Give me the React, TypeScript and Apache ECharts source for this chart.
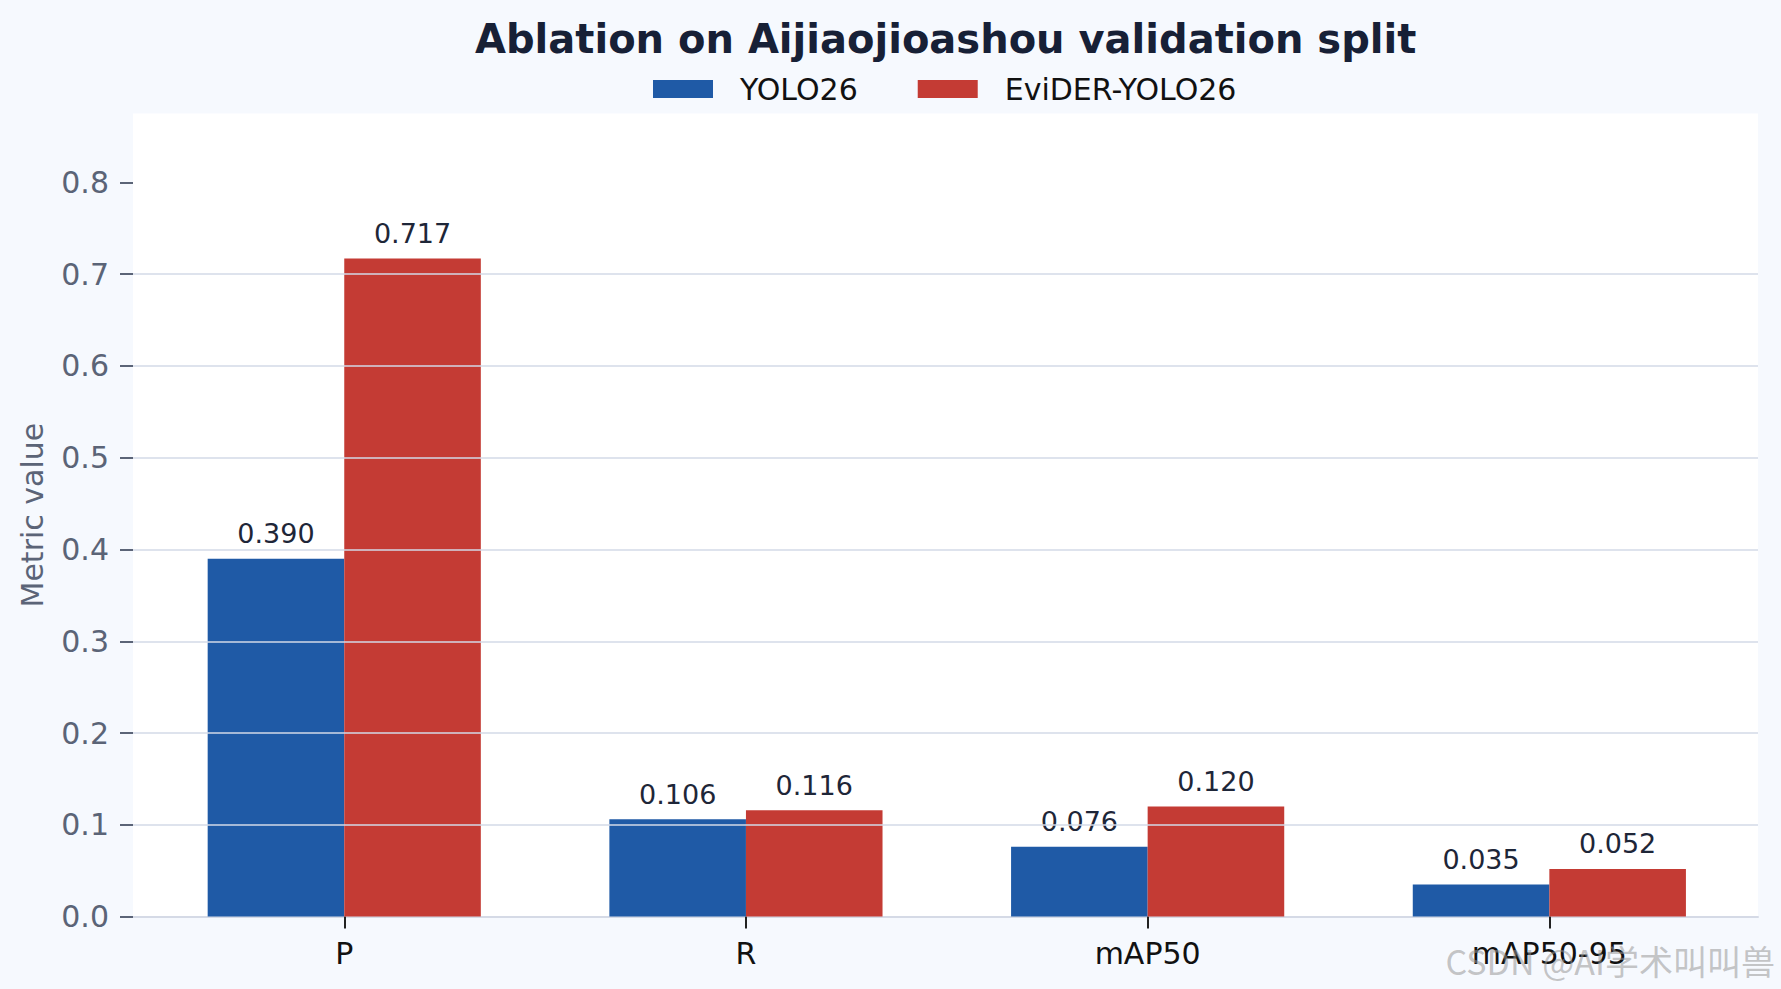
import React, { useEffect, useRef } from "react";
import * as echarts from "echarts";

const categories = ["P", "R", "mAP50", "mAP50-95"];
const seriesNames = ["YOLO26", "EviDER-YOLO26"];
const yolo26Values = [0.39, 0.106, 0.076, 0.035];
const eviderValues = [0.717, 0.116, 0.12, 0.052];
const yTickValues = [0, 0.1, 0.2, 0.3, 0.4, 0.5, 0.6, 0.7, 0.8];
const yMax = 0.875;

const FONT = "DejaVu Sans";
const W = 1781;
const H = 989;

export default function App() {
  const ref = useRef<HTMLDivElement>(null);

  useEffect(() => {
    document.body.style.margin = "0";
    if (!ref.current) return;
    const chart = echarts.init(ref.current, undefined, { renderer: "svg" });

    const gridTop = 113.6;
    const gridBottom = H - 916.6;

    const option: any = {
      animation: false,
      backgroundColor: "#f6f9fe",
      textStyle: { fontFamily: FONT },
      title: {
        text: "Ablation on Aijiaojioashou validation split",
        left: 470,
        top: 13,
        textStyle: {
          fontFamily: FONT,
          fontSize: 40,
          fontWeight: "bold",
          color: "#172036",
          lineHeight: 42,
        },
      },
      legend: {
        data: seriesNames,
        left: 648,
        top: 68.5,
        icon: "rect",
        itemWidth: 60,
        itemHeight: 18,
        itemGap: 60,
        textStyle: {
          fontFamily: FONT,
          fontSize: 30,
          color: "#111111",
          lineHeight: 31,
          padding: [0, 0, 0, 22],
        },
      },
      grid: [
        {
          left: 133,
          right: W - 1758,
          top: gridTop,
          bottom: gridBottom,
          show: true,
          backgroundColor: "#ffffff",
          borderWidth: 0,
        },
        {
          left: 143.4,
          right: 30.8,
          top: gridTop,
          bottom: gridBottom,
        },
      ],
      xAxis: [
        {
          type: "category",
          gridIndex: 0,
          data: categories,
          axisLine: { show: true, lineStyle: { color: "#d5dae6", width: 2 } },
          axisTick: { show: false },
          axisLabel: { show: false },
          splitLine: { show: false },
        },
        {
          type: "category",
          gridIndex: 1,
          data: categories,
          axisLine: { show: false },
          axisTick: {
            show: true,
            alignWithLabel: true,
            length: 12,
            lineStyle: { color: "#222222", width: 2 },
          },
          axisLabel: {
            fontFamily: FONT,
            fontSize: 30,
            color: "#111111",
            margin: 22,
          },
          splitLine: { show: false },
        },
      ],
      yAxis: [
        {
          type: "value",
          gridIndex: 0,
          min: 0,
          max: yMax,
          interval: 0.1,
          z: 5,
          name: "Metric value",
          nameLocation: "middle",
          nameGap: 86,
          nameTextStyle: { fontFamily: FONT, fontSize: 30, color: "#5b6477" },
          axisLine: { show: false },
          axisTick: {
            show: true,
            length: 13,
            customValues: yTickValues,
            lineStyle: { color: "#5b6477", width: 2 },
          },
          axisLabel: {
            customValues: yTickValues,
            fontFamily: FONT,
            fontSize: 30,
            color: "#5b6477",
            margin: 24,
            formatter: (v: number) => v.toFixed(1),
          },
          splitLine: {
            show: true,
            showMinLine: false,
            showMaxLine: false,
            lineStyle: { color: "rgba(211,217,231,0.75)", width: 2 },
          },
        },
        {
          type: "value",
          gridIndex: 1,
          min: 0,
          max: yMax,
          show: false,
          splitLine: { show: false },
        },
      ],
      series: [
        {
          name: seriesNames[0],
          type: "bar",
          xAxisIndex: 1,
          yAxisIndex: 1,
          data: yolo26Values,
          barWidth: "34%",
          barGap: "0%",
          itemStyle: { color: "#1f5aa6" },
          label: {
            show: true,
            position: "top",
            distance: 11.5,
            fontFamily: FONT,
            fontSize: 27,
            color: "#1e2638",
            formatter: (p: any) => Number(p.value).toFixed(3),
          },
        },
        {
          name: seriesNames[1],
          type: "bar",
          xAxisIndex: 1,
          yAxisIndex: 1,
          data: eviderValues,
          barWidth: "34%",
          barGap: "0%",
          itemStyle: { color: "#c43b34" },
          label: {
            show: true,
            position: "top",
            distance: 11.5,
            fontFamily: FONT,
            fontSize: 27,
            color: "#1e2638",
            formatter: (p: any) => Number(p.value).toFixed(3),
          },
        },
      ],
      graphic: [
        {
          type: "text",
          right: 6,
          bottom: 12,
          z: 100,
          style: {
            text: "CSDN @AI学术叫叫兽",
            font: '34px "Noto Sans CJK SC", "DejaVu Sans", sans-serif',
            fill: "rgba(150,150,150,0.55)",
          },
        },
      ],
    };

    chart.setOption(option);
    return () => chart.dispose();
  }, []);

  return <div ref={ref} style={{ width: W, height: H }} />;
}
